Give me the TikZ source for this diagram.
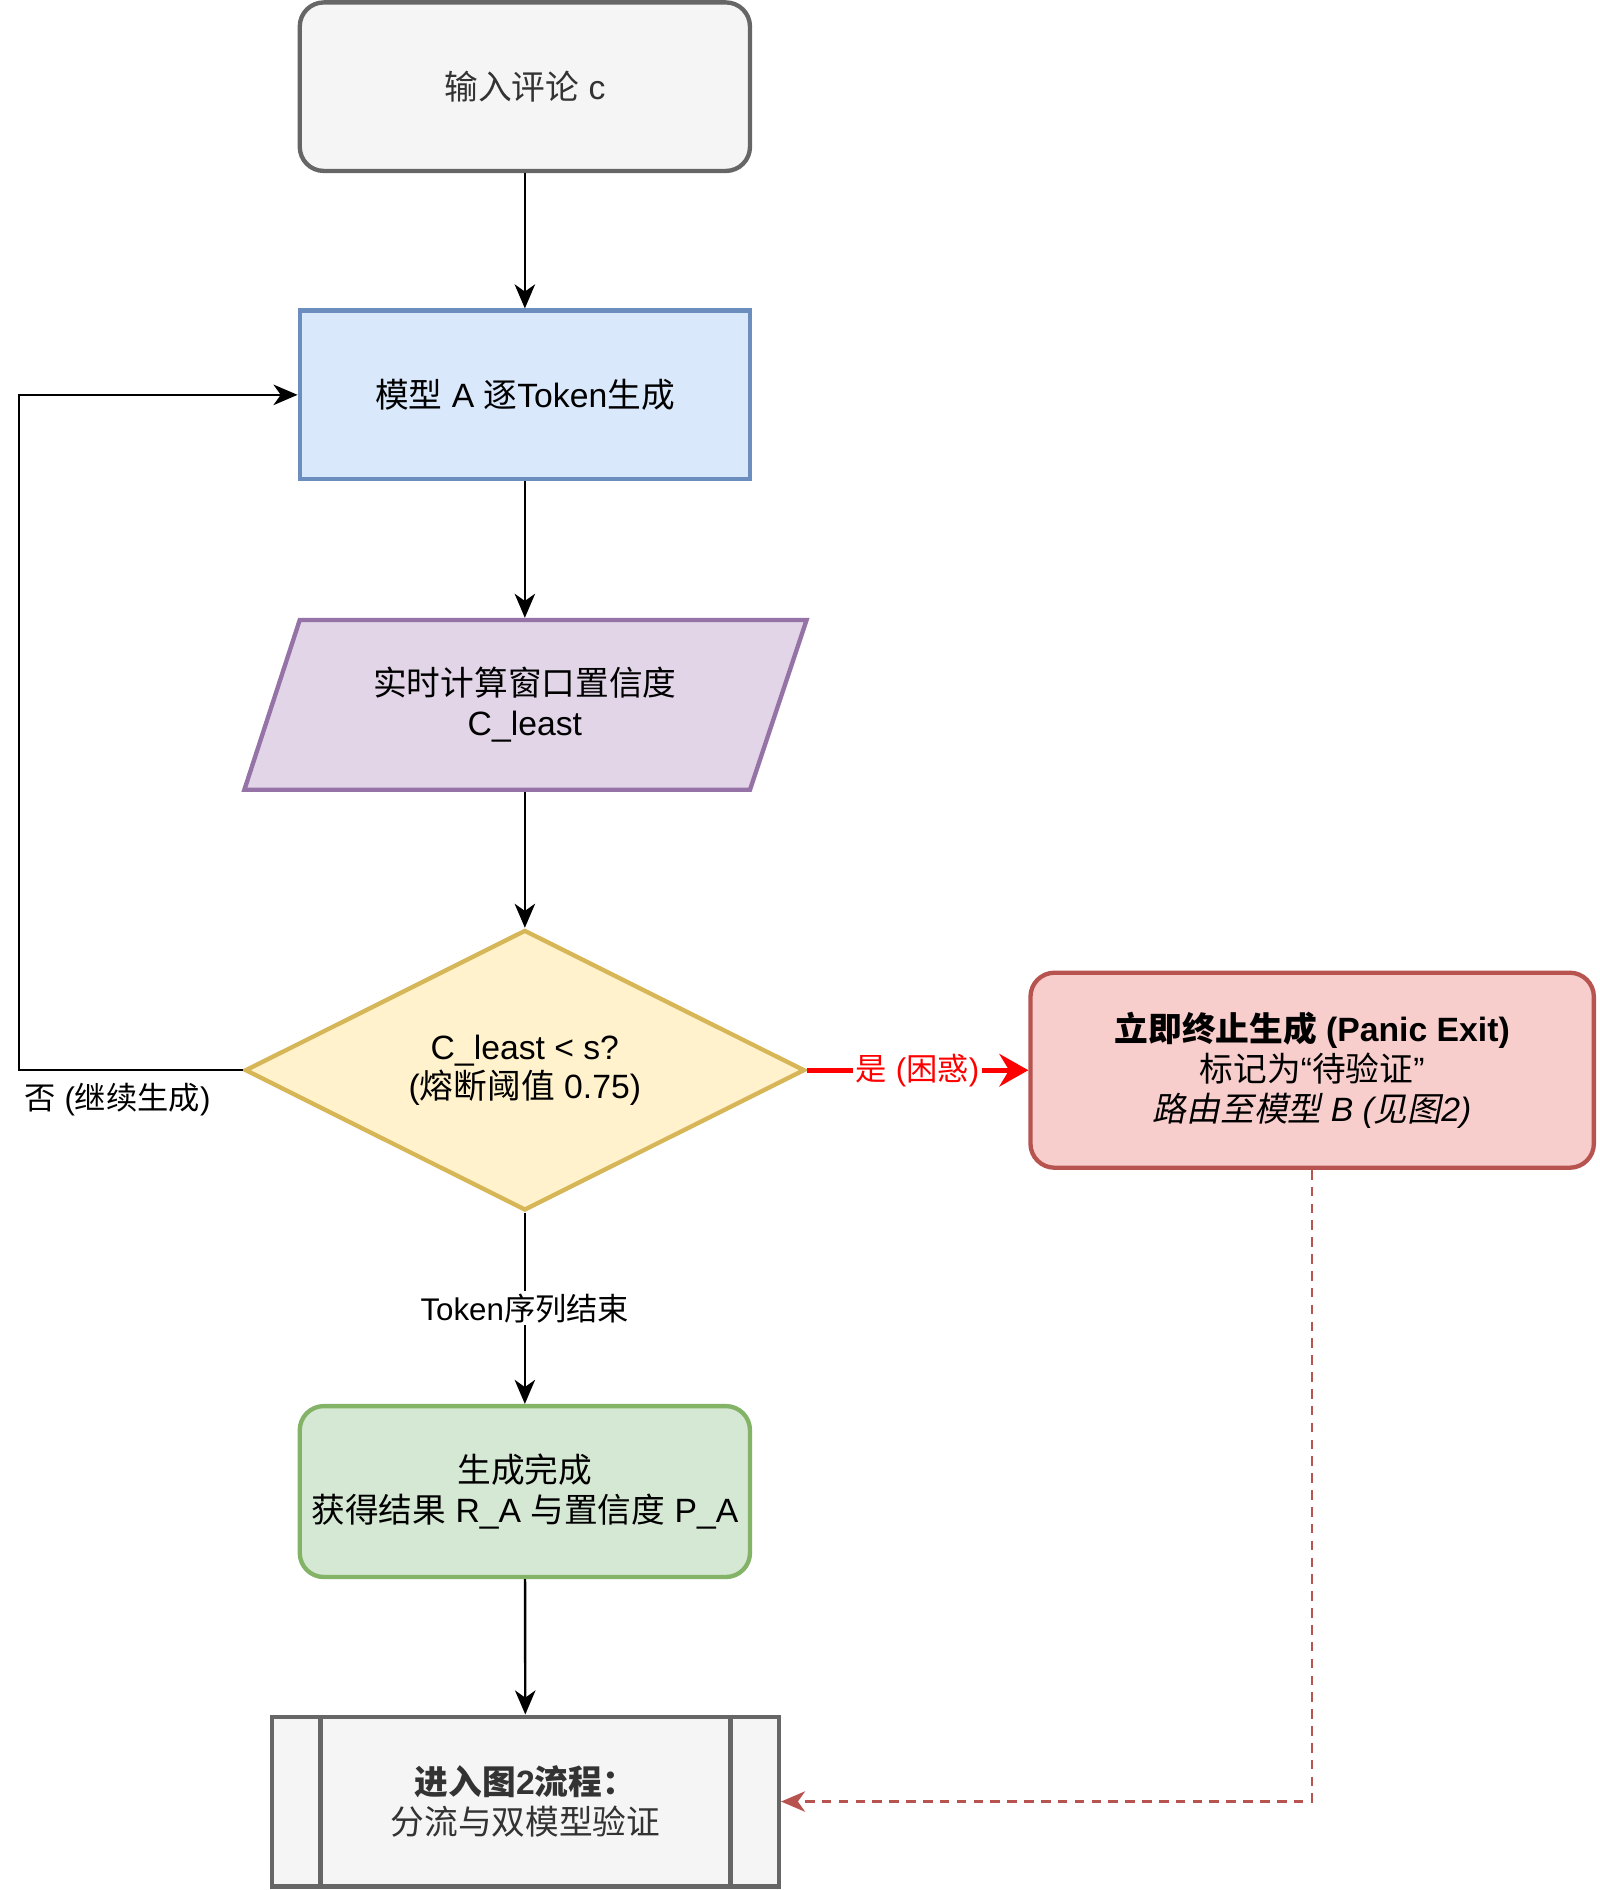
\documentclass[tikz,border=0pt]{standalone}
\usepackage{fontspec}
\setmainfont{Liberation Sans}
\newfontfamily\cjk{Noto Sans CJK SC}[ItalicFont={Noto Sans CJK SC}, ItalicFeatures={FakeSlant=0.2}]
\usetikzlibrary{positioning}
\usetikzlibrary{shapes.geometric}
\usetikzlibrary{arrows.meta}
\usetikzlibrary{calc}

% Chinese characters go to the CJK font, the rest stays Latin
\newcount\cjkcnt
\cjkcnt="4E00 \loop \XeTeXcharclass\cjkcnt=1 \advance\cjkcnt by 1 \ifnum\cjkcnt<"A000 \repeat
\cjkcnt="3000 \loop \XeTeXcharclass\cjkcnt=1 \advance\cjkcnt by 1 \ifnum\cjkcnt<"3040 \repeat
\cjkcnt="FF00 \loop \XeTeXcharclass\cjkcnt=1 \advance\cjkcnt by 1 \ifnum\cjkcnt<"FFF0 \repeat
\XeTeXcharclass"201C=0
\XeTeXcharclass"201D=0
\XeTeXinterchartoks 0 1 = {\cjk}
\XeTeXinterchartoks 4095 1 = {\cjk}
\XeTeXinterchartoks 1 0 = {\rmfamily}
\XeTeXinterchartoks 1 4095 = {\rmfamily}
\XeTeXinterchartokenstate=1

\definecolor{grayfill}{HTML}{F5F5F5}
\definecolor{grayline}{HTML}{666666}
\definecolor{graytext}{HTML}{333333}
\definecolor{bluefill}{HTML}{DAE8FC}
\definecolor{blueline}{HTML}{6C8EBF}
\definecolor{purplefill}{HTML}{E1D5E7}
\definecolor{purpleline}{HTML}{9673A6}
\definecolor{yellowfill}{HTML}{FFF2CC}
\definecolor{yellowline}{HTML}{D6B656}
\definecolor{redfill}{HTML}{F8CECC}
\definecolor{redline}{HTML}{B85450}
\definecolor{greenfill}{HTML}{D5E8D4}
\definecolor{greenline}{HTML}{82B366}

\begin{document}
\begin{tikzpicture}[x=0.5pt, y=-0.5pt,
    box/.style={draw, line width=1.8pt, minimum width=187pt, minimum height=70pt,
        align=center, inner sep=2pt, font=\fontsize{14pt}{16.5pt}\selectfont},
    graybox/.style={box, rounded corners=10pt, fill=grayfill, draw=grayline, text=graytext},
    bluebox/.style={box, fill=bluefill, draw=blueline},
    purplepar/.style={box, draw=none, minimum width=210.5pt, minimum height=70.5pt, outer sep=0.9pt},
    yellowdia/.style={box, shape=diamond, aspect=2, inner sep=0pt, minimum width=232.5pt,
        minimum height=116.5pt, fill=yellowfill, draw=yellowline},
    redbox/.style={box, rounded corners=10pt, minimum width=234pt, minimum height=81pt,
        fill=redfill, draw=redline},
    greenbox/.style={box, rounded corners=10pt, minimum height=71pt, fill=greenfill, draw=greenline},
    subbox/.style={box, minimum width=210.5pt, minimum height=70.5pt, fill=grayfill,
        draw=grayline, text=graytext},
    lbl/.style={font=\fontsize{13pt}{15pt}\selectfont, inner sep=1pt},
    arr/.style={-{Stealth[length=10pt, width=8.5pt, inset=3pt]}, line width=1pt},
    redarr/.style={-{Stealth[length=12pt, width=13.5pt, inset=4pt]}, line width=2pt, draw=red},
    dasharr/.style={-{Stealth[length=10pt, width=8.5pt, inset=3pt]}, line width=1pt,
        draw=redline, dash pattern=on 4pt off 3pt}]
    \useasboundingbox (0,0) rectangle (1329,1570);

    % Define the nodes
    \node[graybox] (inp) at (436,72) {输入评论 c};
    \node[bluebox] (gen) at (436,328) {模型 A 逐Token生成};
    \draw[line width=1.8pt, fill=purplefill, draw=purpleline]
        (249,515) -- (670,515) -- (623,656) -- (203,656) -- cycle;
    \node[purplepar] (conf) at (436,585.5) {实时计算窗口置信度\\C\_least};
    \node[yellowdia] (dec) at (436,889) {C\_least < s?\\(熔断阈值 0.75)};
    \node[redbox] (panic) at (1090,889) {\textbf{立即终止生成 (Panic Exit)}\\标记为“待验证”\\\textit{路由至模型 B (见图2)}};
    \node[greenbox] (done) at (436,1239) {生成完成\\获得结果 R\_A 与置信度 P\_A};
    \node[subbox] (sub) at (436.5,1496.5) {\textbf{进入图2流程：}\\分流与双模型验证};
    \draw[grayline, line width=1.8pt] ([xshift=21pt]sub.north west) -- ([xshift=21pt]sub.south west);
    \draw[grayline, line width=1.8pt] ([xshift=-21pt]sub.north east) -- ([xshift=-21pt]sub.south east);
    \coordinate (loop) at (16,889);

    % Draw the connectors
    \foreach \a/\b in {inp/gen, gen/conf, conf/dec, done/sub}
        \draw[arr] (\a) -- (\b);
    \draw[arr] (dec.west) -- (loop) |- (gen.west);
    \node[lbl, anchor=west] (nolbl) at (18,913) {否 (继续生成)};
    \draw[redarr] (dec.east) -- node[lbl, fill=white, text=red] (yeslbl) {是 (困惑)} (panic.west);
    \draw[arr] (dec.south) -- node[lbl, fill=white] (endlbl) {Token序列结束} (done.north);
    \draw[dasharr] (panic.south) |- (sub.east);
\end{tikzpicture}
\end{document}
